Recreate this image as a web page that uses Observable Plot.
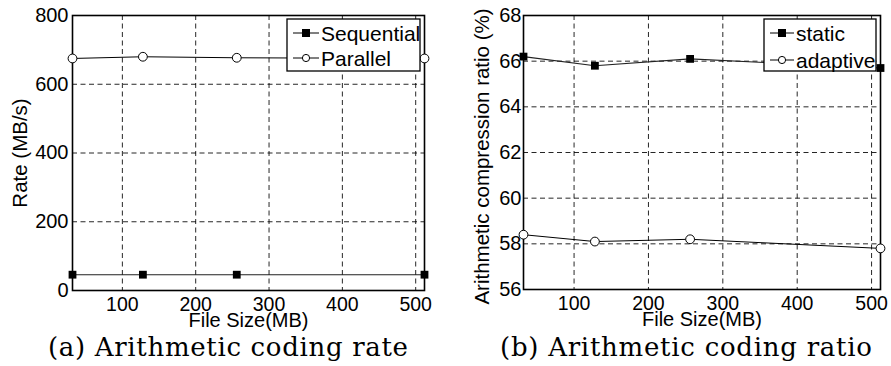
<!DOCTYPE html>
<html><head><meta charset="utf-8">
<script src="https://cdn.jsdelivr.net/npm/d3@7"></script>
<script src="https://cdn.jsdelivr.net/npm/@observablehq/plot@0.6"></script>
<style>
html,body{margin:0;padding:0;background:#fff;}
#wrap{position:relative;width:891px;height:366px;overflow:hidden;background:#fff;}
.panel{position:absolute;top:0;}
.ov{position:absolute;left:0;top:0;pointer-events:none;}
</style></head>
<body><div id="wrap"></div>
<script>
// ---- data ----
const fileSizes = [32, 128, 256, 512];
const xTicks = [100, 200, 300, 400, 500];
const seriesA = ["Sequential", "Parallel"];
const sequentialRate = [46, 46, 46, 46];
const parallelRate = [675, 680, 677, 675];
const yTicksA = [0, 200, 400, 600, 800];
const seriesB = ["static", "adaptive"];
const staticRatio = [66.2, 65.8, 66.1, 65.7];
const adaptiveRatio = [58.4, 58.1, 58.2, 57.8];
const yTicksB = [56, 58, 60, 62, 64, 66, 68];
const xLabel = "File Size(MB)";
const yLabelA = "Rate (MB/s)";
const yLabelB = "Arithmetic compression ratio (%)";
const captions = ["(a) Arithmetic coding rate", "(b) Arithmetic coding ratio"];

const wrap = document.getElementById("wrap");
const font = "'Liberation Sans', Arial, Helvetica, sans-serif";

function rows(names, arrays) {
  const out = [];
  names.forEach((n, i) => fileSizes.forEach((x, j) => out.push({series: n, x, y: arrays[i][j]})));
  return out;
}

function panel({left, width, mL, mR, mB, yDomain, yTicks, yGrid, tickPad, names, arrays, yLabel, ylDx, ylDy}) {
  const data = rows(names, arrays);
  const s0 = data.filter(d => d.series === names[0]);
  const s1 = data.filter(d => d.series === names[1]);
  const p = Plot.plot({
    width, height: 336,
    marginLeft: mL, marginRight: mR, marginTop: 15, marginBottom: mB,
    style: {fontFamily: font, fontSize: "20px", color: "#000", background: "transparent", overflow: "visible"},
    x: {domain: [32, 512], ticks: xTicks},
    y: {domain: yDomain, ticks: yTicks},
    marks: [
      Plot.gridX(xTicks, {stroke: "#000", strokeOpacity: 0.85, strokeDasharray: "5,3.5", strokeWidth: 1}),
      Plot.gridY(yGrid, {stroke: "#000", strokeOpacity: 0.85, strokeDasharray: "5,3.5", strokeWidth: 1}),
      Plot.frame({stroke: "#000", strokeWidth: 1.6}),
      Plot.axisX(xTicks, {tickSize: 0, tickPadding: 7, label: null, fontSize: 19.5}),
      Plot.axisY(yTicks, {tickSize: 0, tickPadding: tickPad, label: null, fontSize: 20}),
      Plot.text([xLabel], {frameAnchor: "bottom", dy: 36, text: d => d, fontSize: 20, textAnchor: "middle"}),
      Plot.text([yLabel], {frameAnchor: "left", dx: ylDx, dy: ylDy, rotate: -90, text: d => d, fontSize: 20.5, textAnchor: "middle"}),
      Plot.line(s0, {x: "x", y: "y", stroke: "#222", strokeWidth: 1.1}),
      Plot.line(s1, {x: "x", y: "y", stroke: "#000", strokeWidth: 1}),
      Plot.dot(s0, {x: "x", y: "y", symbol: "square", r: 4.4, fill: "#000", stroke: "none"}),
      Plot.dot(s1, {x: "x", y: "y", symbol: "circle", r: 4.4, fill: "#fff", stroke: "#000", strokeWidth: 1})
    ]
  });
  p.classList.add("panel");
  p.style.left = left + "px";
  wrap.appendChild(p);
}

panel({left: 0, width: 445, mL: 72, mR: 21, mB: 46, yDomain: [0, 800], yTicks: yTicksA,
  yGrid: [200, 400, 600], tickPad: 4, names: seriesA, arrays: [sequentialRate, parallelRate],
  yLabel: yLabelA, ylDx: -52, ylDy: 0});
panel({left: 445, width: 446, mL: 78, mR: 11, mB: 47, yDomain: [56, 68], yTicks: yTicksB,
  yGrid: [58, 60, 62, 64, 66], tickPad: 2, names: seriesB, arrays: [staticRatio, adaptiveRatio],
  yLabel: yLabelB, ylDx: -41, ylDy: 4});

// ---- legends & captions overlay ----
const ns = "http://www.w3.org/2000/svg";
const ov = document.createElementNS(ns, "svg");
ov.setAttribute("width", 891); ov.setAttribute("height", 366);
ov.setAttribute("class", "ov");
wrap.appendChild(ov);
function el(tag, attrs, parent = ov) {
  const e = document.createElementNS(ns, tag);
  for (const k in attrs) e.setAttribute(k, attrs[k]);
  parent.appendChild(e); return e;
}
function legend(x0, x1, y0, y1, names, lineX0, lineX1, textX, rowsY) {
  el("rect", {x: x0, y: y0, width: x1 - x0, height: y1 - y0, fill: "#fff", stroke: "#000", "stroke-width": 1.3});
  names.forEach((n, i) => {
    const y = rowsY[i], mx = (lineX0 + lineX1) / 2;
    el("line", {x1: lineX0, x2: lineX1, y1: y, y2: y, stroke: "#000", "stroke-width": 1});
    if (i === 0) el("rect", {x: mx - 4, y: y - 4, width: 8, height: 8, fill: "#000"});
    else el("circle", {cx: mx, cy: y, r: 3.6, fill: "#fff", stroke: "#000", "stroke-width": 1});
    const t = el("text", {x: textX, y: y, "dominant-baseline": "central", "font-family": font, "font-size": "21px", fill: "#000"});
    t.textContent = n;
  });
}
legend(287, 420, 19, 71, seriesA, 293, 319, 321, [33, 58]);
legend(764, 876, 19, 71, seriesB, 770, 794, 796, [33, 60]);

[[228, 360], [686, 372]].forEach(([cx, w], i) => {
  const t = el("text", {x: cx, y: 356, "text-anchor": "middle", "font-family": "'DejaVu Serif', 'Liberation Serif', serif",
    "font-size": "26px", fill: "#000", textLength: w, lengthAdjust: "spacing"});
  t.textContent = captions[i];
});
</script></body></html>
